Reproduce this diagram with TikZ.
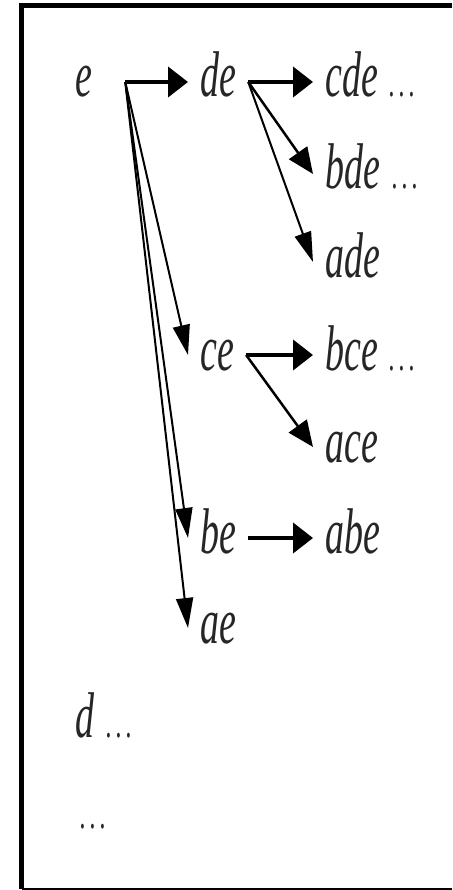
\documentclass[tikz,border=0pt]{standalone}
\usepackage{fontspec}
\setmainfont{Liberation Serif}
\usepackage{graphicx}
\usetikzlibrary{arrows.meta}
\newcommand{\tallt}[1]{\scalebox{1}[1.7]{#1}}
\newcommand{\dotsx}{{\fontsize{24}{26}\selectfont .\hspace{4pt}.\hspace{4pt}.}}

\begin{document}
\begin{tikzpicture}[x=1pt, y=-1pt,
    lab/.style={
        inner xsep=12pt, inner ysep=0pt,
        text height=30pt, text depth=0pt, anchor=base west,
        text=black!85, font=\fontsize{38}{40}\selectfont\itshape},
    harr/.style={-{Triangle[length=20pt, width=30pt]}, line width=4pt},
    darr/.style={-{Triangle[length=26pt, width=22pt]}, line width=2.5pt},
    varr/.style={-{Triangle[length=30pt, width=17pt]}, line width=2pt}]
  \useasboundingbox (0,0) rectangle (452,890);
  % Marco
  \draw[line width=5pt] (452,5.5) -- (21.5,5.5) -- (21.5,889);
  \draw[line width=1.5pt] (21.5,889) -- (452,889);
  % Conjuntos
  \node[lab] (e)    at (63,97)   {\tallt{e}};
  \node[lab] (de)   at (188,97)  {\tallt{de}};
  \node[lab] (cde)  at (313,97)  {\tallt{cde\hspace{12pt}\dotsx}};
  \node[lab] (bde)  at (313,189) {\tallt{bde\hspace{12pt}\dotsx}};
  \node[lab] (ade)  at (313,277) {\tallt{ade}};
  \node[lab] (ce)   at (188,370) {\tallt{ce}};
  \node[lab] (bce)  at (313,370) {\tallt{bce\hspace{12pt}\dotsx}};
  \node[lab] (ace)  at (313,462) {\tallt{ace}};
  \node[lab] (be)   at (188,553) {\tallt{be}};
  \node[lab] (abe)  at (313,553) {\tallt{abe}};
  \node[lab] (ae)   at (188,643) {\tallt{ae}};
  \node[lab] (d)    at (63,737)  {\tallt{d\hspace{12pt}\dotsx}};
  \node[lab] (more) at (68,828)  {\tallt{\dotsx}};
  \coordinate (eout) at ([xshift=21pt]e.east);
  % Flechas
  \draw[harr] (eout) -- (de.west);
  \draw[varr] (eout) -- (ce.west);
  \draw[varr] (eout) -- (be.west);
  \draw[varr] (eout) -- (ae.west);
  \draw[harr] (de.east) -- (cde.west);
  \draw[darr] (de.east) -- (bde.west);
  \draw[varr] (de.east) -- (ade.west);
  \draw[harr] (ce.east) -- (bce.west);
  \draw[darr] (ce.east) -- (ace.west);
  \draw[harr] (be.east) -- (abe.west);
\end{tikzpicture}
\end{document}
